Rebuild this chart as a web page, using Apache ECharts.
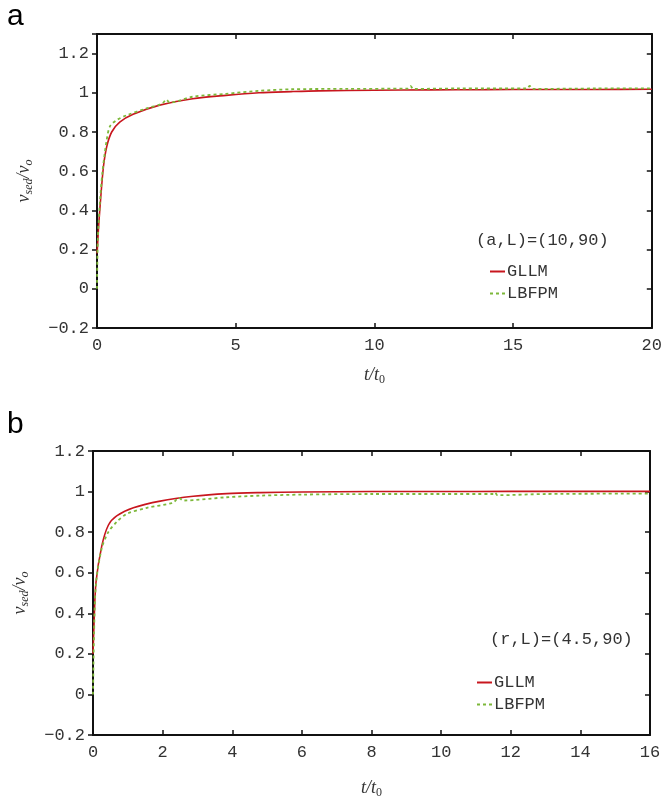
<!DOCTYPE html>
<html><head><meta charset="utf-8">
<script src="https://cdn.jsdelivr.net/npm/echarts@6/dist/echarts.min.js"></script>
<style>html,body{margin:0;padding:0;background:#fff}#c{width:665px;height:800px}</style>
</head><body><div id="c"></div>
<script>
// ---- Panel a data ----
const tA_gllm = [0, 0.02, 0.05, 0.11, 0.23, 0.35, 0.53, 0.82, 1.3, 2.26, 3.45, 4.65, 5.84, 7, 8, 10, 12, 14, 16, 18, 20];
const gllmA   = [0.18, 0.22, 0.3, 0.42, 0.62, 0.725, 0.80, 0.85, 0.89, 0.937, 0.97, 0.987, 1.0, 1.006, 1.01, 1.013, 1.015, 1.016, 1.017, 1.017, 1.018];
const tA_lbfpm = [0, 0.03, 0.11, 0.2, 0.35, 0.47, 0.7, 1.06, 1.78, 2.35, 2.5, 2.62, 3.45, 4.65, 5.84, 7, 9, 11.2, 11.3, 11.4, 13, 15.5, 15.6, 15.7, 18, 20];
const lbfpmA   = [0, 0.25, 0.45, 0.6, 0.76, 0.83, 0.86, 0.885, 0.92, 0.945, 0.965, 0.95, 0.98, 0.995, 1.01, 1.018, 1.02, 1.022, 1.035, 1.02, 1.022, 1.022, 1.035, 1.02, 1.022, 1.023];
// ---- Panel b data ----
const tB_gllm = [0, 0.03, 0.086, 0.25, 0.44, 0.68, 1.16, 1.93, 2.88, 3.84, 4.8, 6, 8, 10, 12, 14, 16];
const gllmB   = [0.2, 0.35, 0.553, 0.73, 0.834, 0.88, 0.92, 0.953, 0.977, 0.99, 0.995, 0.998, 1.0, 1.0, 1.001, 1.001, 1.001];
const tB_lbfpm = [0, 0.03, 0.086, 0.25, 0.44, 0.68, 0.97, 1.55, 2.3, 2.46, 2.6, 3.84, 4.8, 6, 8, 10, 11.5, 11.55, 11.62, 13, 16];
const lbfpmB   = [0, 0.3, 0.545, 0.72, 0.80, 0.85, 0.89, 0.92, 0.945, 0.969, 0.956, 0.972, 0.98, 0.985, 0.988, 0.988, 0.988, 0.995, 0.982, 0.988, 0.99];

const xTicksA = {min: 0, max: 20, interval: 5};
const yTicksA = {min: -0.2, max: 1.3, interval: 0.2};
const xTicksB = {min: 0, max: 16, interval: 2};
const yTicksB = {min: -0.2, max: 1.2, interval: 0.2};

const RED = '#c8161e', GREEN = '#7db83a';
const MONO = '"Liberation Mono", "DejaVu Sans Mono", monospace';
const SERIF = '"Liberation Serif", "DejaVu Serif", serif';
const pair = (t, v) => t.map((x, i) => [x, v[i]]);
const fmtY = v => (v > 1.25 ? '' : String(Math.round(v * 10) / 10).replace('-', '\u2212'));

const axisLine = {show: true, onZero: false, lineStyle: {color: '#111', width: 2}};
const labelStyle = {color: '#333', fontFamily: MONO, fontSize: 17};
const richTitle = {
  i: {fontFamily: SERIF, fontStyle: 'italic', fontSize: 18, color: '#333', lineHeight: 22},
  s: {fontFamily: SERIF, fontStyle: 'italic', fontSize: 12, color: '#333', lineHeight: 22, verticalAlign: 'bottom', padding: [8, 0, 0, 0]},
  n: {fontFamily: SERIF, fontSize: 12, color: '#333', lineHeight: 22, verticalAlign: 'bottom', padding: [8, 0, 0, 0]}
};

function xAxes(gi, tk, gap) {
  return [
    {type: 'value', gridIndex: gi, position: 'bottom', ...tk, axisLine, splitLine: {show: false},
     axisTick: {inside: true, length: 5, lineStyle: {color: '#111', width: 1.5}},
     axisLabel: {...labelStyle, margin: 9},
     name: '{i|t/t}{n|0}', nameLocation: 'middle', nameGap: gap, nameTextStyle: {rich: richTitle}},
    {type: 'value', gridIndex: gi, position: 'top', ...tk, axisLine, splitLine: {show: false},
     axisTick: {inside: true, length: 5, lineStyle: {color: '#111', width: 1.5}}, axisLabel: {show: false}}
  ];
}
function yAxes(gi, tk, gap) {
  return [
    {type: 'value', gridIndex: gi, position: 'left', ...tk, axisLine, splitLine: {show: false},
     axisTick: {inside: false, length: 5, lineStyle: {color: '#111', width: 1.5}},
     axisLabel: {...labelStyle, margin: 8, formatter: fmtY, showMaxLabel: true},
     name: '{i|v}{s|sed}{i|/v}{s|o}', nameLocation: 'middle', nameGap: gap, nameRotate: 90, nameTextStyle: {rich: richTitle}},
    {type: 'value', gridIndex: gi, position: 'right', ...tk, axisLine, splitLine: {show: false},
     axisTick: {inside: true, length: 5, lineStyle: {color: '#111', width: 1.5}}, axisLabel: {show: false}}
  ];
}

const lineRed = {type: 'line', name: 'GLLM', showSymbol: false, symbol: 'none', smooth: 0.3,
  lineStyle: {color: RED, width: 1.6}, itemStyle: {color: RED}, z: 3};
const lineGreen = {type: 'line', name: 'LBFPM', showSymbol: false, symbol: 'none', smooth: 0.3,
  lineStyle: {color: GREEN, width: 1.8, type: [3, 3]}, itemStyle: {color: GREEN}, z: 4};

const ICON_SOLID = 'path://M0,0h15v2h-15z';
const ICON_DOT = 'path://M0,0h3v2h-3z M6,0h3v2h-3z M12,0h3v2h-3z';
const legendData = [
  {name: 'GLLM', icon: ICON_SOLID, itemStyle: {color: RED}},
  {name: 'LBFPM', icon: ICON_DOT, itemStyle: {color: GREEN}}
];
const legendBase = {orient: 'vertical', padding: 0, itemWidth: 15, itemHeight: 2, itemGap: 5,
  textStyle: {fontFamily: MONO, fontSize: 17, color: '#333', padding: [0, 0, 0, -3]}, data: legendData};

const chart = echarts.init(document.getElementById('c'), null, {renderer: 'canvas'});
chart.setOption({
  animation: false,
  backgroundColor: '#fff',
  grid: [
    {left: 97, right: 10, top: 34, bottom: 472},
    {left: 93, right: 15, top: 451, bottom: 57}
  ],
  xAxis: [...xAxes(0, xTicksA, 36), ...xAxes(1, xTicksB, 42)],
  yAxis: [...yAxes(0, yTicksA, 62), ...yAxes(1, yTicksB, 62)],
  legend: [
    {...legendBase, left: 490, top: 263},
    {...legendBase, left: 477, top: 674}
  ],
  graphic: [
    {type: 'text', left: 7, top: 2, style: {text: 'a', font: '30px "Liberation Sans", Arial, sans-serif', fill: '#000'}},
    {type: 'text', left: 7, top: 410, style: {text: 'b', font: '30px "Liberation Sans", Arial, sans-serif', fill: '#000'}},
    {type: 'text', left: 476, top: 232, style: {text: '(a,L)=(10,90)', font: '17px ' + MONO, fill: '#333'}},
    {type: 'text', left: 490, top: 631, style: {text: '(r,L)=(4.5,90)', font: '17px ' + MONO, fill: '#333'}}
  ],
  series: [
    {...lineRed, xAxisIndex: 0, yAxisIndex: 0, data: pair(tA_gllm, gllmA)},
    {...lineGreen, xAxisIndex: 0, yAxisIndex: 0, data: pair(tA_lbfpm, lbfpmA)},
    {...lineRed, xAxisIndex: 2, yAxisIndex: 2, data: pair(tB_gllm, gllmB)},
    {...lineGreen, xAxisIndex: 2, yAxisIndex: 2, data: pair(tB_lbfpm, lbfpmB)}
  ]
});
</script></body></html>
